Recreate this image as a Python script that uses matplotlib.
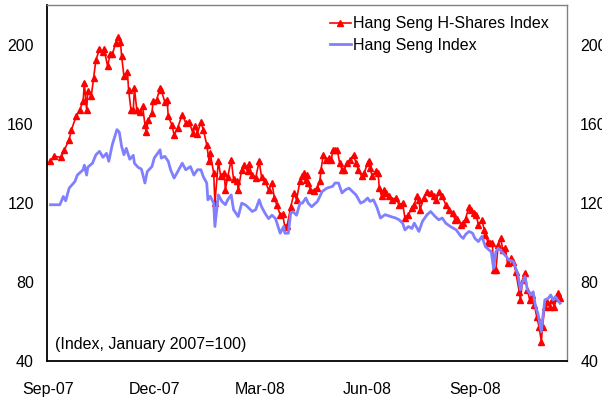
import matplotlib
matplotlib.use("Agg")
import matplotlib.pyplot as plt
import matplotlib.dates as mdates
import pandas as pd

plt.rcParams['font.family'] = ['Liberation Sans', 'DejaVu Sans']

# Hang Seng H-Shares Index (January 2007 = 100)
h_dates = [
    "2007-09-03", "2007-09-06", "2007-09-12", "2007-09-15", "2007-09-19", "2007-09-21", "2007-09-25", "2007-09-28",
    "2007-10-01", "2007-10-02", "2007-10-04", "2007-10-05", "2007-10-08", "2007-10-10", "2007-10-12", "2007-10-15",
    "2007-10-18", "2007-10-19", "2007-10-22", "2007-10-24", "2007-10-26", "2007-10-29", "2007-10-31", "2007-11-02",
    "2007-11-03", "2007-11-05", "2007-11-08", "2007-11-09", "2007-11-11", "2007-11-13", "2007-11-14", "2007-11-16",
    "2007-11-19", "2007-11-21", "2007-11-23", "2007-11-24", "2007-11-26", "2007-11-29", "2007-11-30", "2007-12-03",
    "2007-12-06", "2007-12-07", "2007-12-10", "2007-12-12", "2007-12-13", "2007-12-16", "2007-12-18", "2007-12-21",
    "2007-12-25", "2007-12-28", "2007-12-31", "2008-01-03", "2008-01-05", "2008-01-07", "2008-01-10", "2008-01-12",
    "2008-01-15", "2008-01-17", "2008-01-18", "2008-01-21", "2008-01-22", "2008-01-25", "2008-01-27", "2008-01-30",
    "2008-01-31", "2008-02-02", "2008-02-05", "2008-02-07", "2008-02-10", "2008-02-11", "2008-02-14", "2008-02-16",
    "2008-02-19", "2008-02-20", "2008-02-23", "2008-02-26", "2008-02-29", "2008-03-02", "2008-03-05", "2008-03-08",
    "2008-03-11", "2008-03-13", "2008-03-15", "2008-03-18", "2008-03-20", "2008-03-22", "2008-03-24", "2008-03-27",
    "2008-03-30", "2008-04-01", "2008-04-04", "2008-04-06", "2008-04-07", "2008-04-09", "2008-04-10", "2008-04-11",
    "2008-04-13", "2008-04-16", "2008-04-19", "2008-04-21", "2008-04-22", "2008-04-24", "2008-04-26", "2008-04-29",
    "2008-05-01", "2008-05-02", "2008-05-04", "2008-05-06", "2008-05-08", "2008-05-10", "2008-05-12", "2008-05-14",
    "2008-05-17", "2008-05-20", "2008-05-22", "2008-05-24", "2008-05-27", "2008-05-29", "2008-06-01", "2008-06-02",
    "2008-06-03", "2008-06-05", "2008-06-08", "2008-06-10", "2008-06-11", "2008-06-13", "2008-06-15", "2008-06-17",
    "2008-06-19", "2008-06-22", "2008-06-25", "2008-06-28", "2008-07-01", "2008-07-03", "2008-07-06", "2008-07-09",
    "2008-07-11", "2008-07-13", "2008-07-15", "2008-07-16", "2008-07-19", "2008-07-22", "2008-07-25", "2008-07-28",
    "2008-07-30", "2008-08-01", "2008-08-04", "2008-08-07", "2008-08-10", "2008-08-13", "2008-08-15", "2008-08-17",
    "2008-08-20", "2008-08-22", "2008-08-24", "2008-08-27", "2008-08-29", "2008-08-31", "2008-09-02", "2008-09-04",
    "2008-09-07", "2008-09-09", "2008-09-10", "2008-09-12", "2008-09-14", "2008-09-16", "2008-09-17", "2008-09-19",
    "2008-09-21", "2008-09-23", "2008-09-25", "2008-09-27", "2008-09-29", "2008-10-02", "2008-10-04", "2008-10-06",
    "2008-10-09", "2008-10-10", "2008-10-12", "2008-10-14", "2008-10-16", "2008-10-18", "2008-10-20", "2008-10-22",
    "2008-10-24", "2008-10-26", "2008-10-28", "2008-10-29", "2008-10-31", "2008-11-02", "2008-11-04", "2008-11-06",
    "2008-11-08", "2008-11-11", "2008-11-12", "2008-11-13",
]
h_values = [
    141, 143.5, 143, 146.8, 151.9, 157, 163.7, 167,
    171.3, 180.6, 167, 176.4, 174, 183, 192.4, 197.5,
    196, 197.5, 189, 195, 195, 201, 204, 201.5,
    194, 184, 186, 177, 167, 167, 178, 167,
    166, 168.8, 159.5, 156, 162, 165.4, 171.3, 172,
    178, 177, 171, 172, 163.7, 159.5, 154.4, 157.8,
    164.6, 160.4, 161, 155.3, 159, 155, 161, 157,
    149.4, 141, 145, 135, 119.8, 141, 133.3, 135,
    126.6, 133, 141.8, 131.9, 131, 126.6, 136.7, 139,
    136, 139.5, 134, 132.6, 141, 133, 131, 126.6,
    130, 122.4, 119, 114, 114.3, 108, 108.3, 118,
    124.9, 121.5, 131, 133.3, 135, 131.6, 134, 130,
    126.6, 126, 127.5, 130.8, 136.7, 144.3, 141.8, 142.6,
    141.8, 146.8, 146.8, 146.8, 140, 136.7, 136.7, 140,
    141.8, 144.3, 140, 136.7, 133.3, 135, 140, 141,
    137.6, 133.3, 136, 135, 127.4, 123.2, 126.6, 125,
    123.2, 121.5, 122.4, 119, 119.8, 112.3, 114, 117.6,
    119, 123.2, 121.5, 116.5, 122.4, 125.7, 124.9, 123.2,
    121.5, 125.7, 123.2, 119, 116.5, 114.7, 111.4, 112,
    108.9, 109.7, 112, 118.1, 116.5, 114.7, 113.9, 108.9,
    111.4, 106.3, 103.8, 100.4, 99.6, 99.6, 86, 86,
    98.7, 102.1, 96.2, 97, 89.5, 92, 90, 85.2,
    75.1, 70.9, 81, 84.4, 76, 70.9, 73.4, 68.4,
    62.4, 57.4, 49.8, 57.4, 67.5, 70, 67.5, 70.9,
    67.5, 74.2, 71.7, 71.7,
]

# Hang Seng Index (January 2007 = 100)
hsi_dates = [
    "2007-09-03", "2007-09-11", "2007-09-14", "2007-09-16", "2007-09-19", "2007-09-24", "2007-09-26", "2007-10-01",
    "2007-10-02", "2007-10-04", "2007-10-05", "2007-10-09", "2007-10-12", "2007-10-15", "2007-10-18", "2007-10-21",
    "2007-10-23", "2007-10-26", "2007-10-30", "2007-11-01", "2007-11-03", "2007-11-05", "2007-11-07", "2007-11-10",
    "2007-11-13", "2007-11-14", "2007-11-17", "2007-11-20", "2007-11-23", "2007-11-25", "2007-11-29", "2007-12-01",
    "2007-12-06", "2007-12-07", "2007-12-10", "2007-12-13", "2007-12-15", "2007-12-18", "2007-12-22", "2007-12-25",
    "2007-12-28", "2008-01-01", "2008-01-04", "2008-01-07", "2008-01-10", "2008-01-12", "2008-01-15", "2008-01-16",
    "2008-01-18", "2008-01-21", "2008-01-22", "2008-01-25", "2008-01-28", "2008-01-31", "2008-02-02", "2008-02-05",
    "2008-02-07", "2008-02-11", "2008-02-14", "2008-02-17", "2008-02-19", "2008-02-23", "2008-02-26", "2008-02-29",
    "2008-03-02", "2008-03-05", "2008-03-08", "2008-03-11", "2008-03-14", "2008-03-18", "2008-03-21", "2008-03-22",
    "2008-03-25", "2008-03-27", "2008-03-29", "2008-04-01", "2008-04-04", "2008-04-06", "2008-04-09", "2008-04-11",
    "2008-04-14", "2008-04-19", "2008-04-23", "2008-04-27", "2008-05-02", "2008-05-04", "2008-05-07", "2008-05-10",
    "2008-05-13", "2008-05-16", "2008-05-19", "2008-05-22", "2008-05-26", "2008-05-29", "2008-06-01", "2008-06-03",
    "2008-06-06", "2008-06-09", "2008-06-12", "2008-06-16", "2008-06-21", "2008-06-25", "2008-06-28", "2008-07-01",
    "2008-07-03", "2008-07-06", "2008-07-09", "2008-07-11", "2008-07-15", "2008-07-18", "2008-07-22", "2008-07-25",
    "2008-07-29", "2008-08-01", "2008-08-04", "2008-08-07", "2008-08-11", "2008-08-16", "2008-08-20", "2008-08-22",
    "2008-08-24", "2008-08-27", "2008-08-30", "2008-09-01", "2008-09-04", "2008-09-07", "2008-09-10", "2008-09-13",
    "2008-09-15", "2008-09-17", "2008-09-19", "2008-09-21", "2008-09-24", "2008-09-28", "2008-09-30", "2008-10-04",
    "2008-10-06", "2008-10-08", "2008-10-10", "2008-10-12", "2008-10-14", "2008-10-16", "2008-10-19", "2008-10-21",
    "2008-10-23", "2008-10-25", "2008-10-28", "2008-10-29", "2008-10-31", "2008-11-03", "2008-11-05", "2008-11-07",
    "2008-11-09", "2008-11-11", "2008-11-13",
]
hsi_values = [
    119, 119, 123.2, 121, 127.4, 130.8, 134, 136.7,
    139, 134, 138, 140, 144.3, 146, 143, 145,
    141, 149.4, 157, 155.7, 148.5, 144.3, 147.5, 142,
    144, 140, 138, 137, 130, 135.8, 138.3, 142.6,
    146.8, 142.6, 143.5, 141, 136.7, 132.5, 136.7, 140,
    136.7, 138.3, 134, 136.7, 136.7, 133.3, 130, 121.5,
    123.3, 119.8, 108, 124, 120.7, 119, 121.5, 124,
    116.5, 113, 119.8, 119, 118, 115.6, 116.5, 121.5,
    118, 114.7, 112, 113.7, 112, 104.6, 108, 104.6,
    104.6, 114.7, 115.5, 113.7, 119.8, 119.8, 122.4, 119.8,
    118, 120.7, 125.7, 127.4, 128.3, 130, 130, 125,
    126.6, 127.4, 125.7, 124, 119.8, 120.7, 122.4, 120.7,
    121.5, 117.6, 112.3, 114, 113, 112.3, 111.4, 109.7,
    106.3, 108, 107, 109.7, 105.5, 110.6, 114, 115.6,
    113, 111.4, 112.3, 109.7, 108, 106.3, 103, 102,
    104, 105.5, 104.6, 102, 100.4, 103, 97.9, 96.2,
    95.3, 86.9, 95.3, 97, 95.3, 92.8, 91.1, 90.3,
    86.9, 83.5, 76, 80, 82.7, 76, 73.4, 75,
    67.5, 64.2, 54.9, 60.8, 70.9, 71.7, 73.4, 70.9,
    72.5, 70.9, 69.2,
]

y_ticks = [40, 80, 120, 160, 200]
x_ticks = ["2007-09-01", "2007-12-01", "2008-03-01", "2008-06-01", "2008-09-01"]

fig = plt.figure(figsize=(6.02, 4.0), dpi=100)
ax = fig.add_axes([47 / 602, 39 / 400, 520 / 602, 356 / 400])

ax.plot(pd.to_datetime(h_dates), h_values, color="#ff0000", linewidth=1.2,
        marker="^", markersize=4.5, label="Hang Seng H-Shares Index")
ax.plot(pd.to_datetime(hsi_dates), hsi_values, color="#8080ff", linewidth=2.0,
        label="Hang Seng Index")

ax.set_ylim(40, 220)
ax.set_yticks(y_ticks)
ax.set_xlim(pd.Timestamp("2007-08-31"), pd.Timestamp("2008-11-19"))
ax.set_xticks(pd.to_datetime(x_ticks))
ax.xaxis.set_major_formatter(mdates.DateFormatter("%b-%y"))

ax.tick_params(axis="y", length=0, pad=9.5, labelsize=11.5, labelright=True)
ax.tick_params(axis="x", length=0, pad=15, labelsize=11.5)

for side in ["left", "bottom"]:
    ax.spines[side].set_color("black")
    ax.spines[side].set_linewidth(1.3)
for side in ["top", "right"]:
    ax.spines[side].set_color("#808080")
    ax.spines[side].set_linewidth(1.0)

ax.legend(loc="upper left", bbox_to_anchor=(0.544, 0.968), frameon=False, fontsize=11.5,
          borderpad=0, borderaxespad=0, handlelength=1.3, handletextpad=0.15, labelspacing=0.4)

ax.text(0.016, 0.045, "(Index, January 2007=100)", transform=ax.transAxes, fontsize=11.5,
        va="center", ha="left")

fig.savefig("out.png", dpi=100)
